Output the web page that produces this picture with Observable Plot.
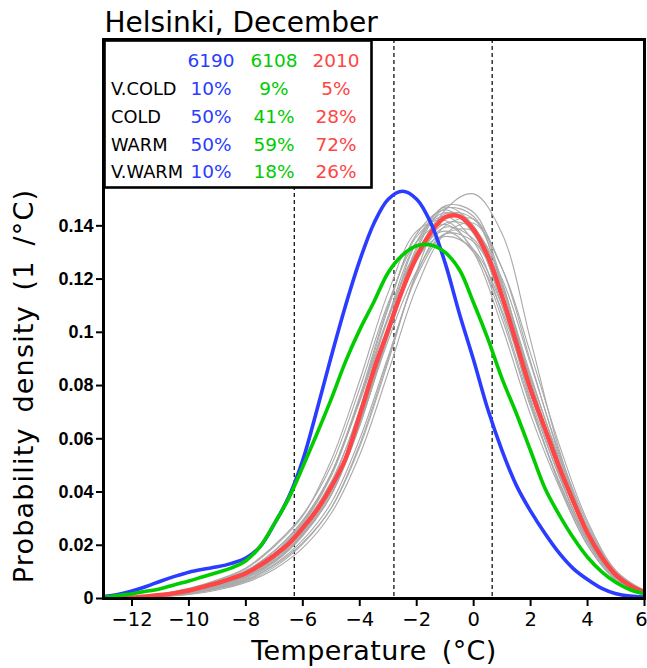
<!DOCTYPE html>
<html><head><meta charset="utf-8">
<script src="https://cdn.jsdelivr.net/npm/d3@7"></script>
<script src="https://cdn.jsdelivr.net/npm/@observablehq/plot@0.6"></script>
<style>
body{margin:0;background:#fff;}
#chart svg{display:block;}
</style>
</head><body><div id="chart"></div>
<script>
const title = "Helsinki, December";
const xLabel = "Temperature (°C)";
const yLabel = "Probability density (1 /°C)";
const xTicks = [-12, -10, -8, -6, -4, -2, 0, 2, 4, 6];
const yTicks = [0, 0.02, 0.04, 0.06, 0.08, 0.1, 0.12, 0.14];
const percentileLines = [-6.3, -2.8, 0.65];

const seriesNames = ["6190", "6108", "2010"];
const seriesColors = ["#2a3cff", "#00cc00", "#ff4545"];
const classNames = ["V.COLD", "COLD", "WARM", "V.WARM"];
const pct6190 = [10, 50, 50, 10];
const pct6108 = [9, 41, 59, 18];
const pct2010 = [5, 28, 72, 26];

const tHalf = [-13, -12.5, -12, -11.5, -11, -10.5, -10, -9.5, -9, -8.5, -8, -7.5, -7, -6.5, -6, -5.5, -5, -4.5, -4, -3.5, -3, -2.5, -2, -1.5, -1, -0.5, 0, 0.5, 1, 1.5, 2, 2.5, 3, 3.5, 4, 4.5, 5, 5.5, 6];
const dens6190 = [0.0007, 0.0015, 0.0028, 0.0045, 0.0065, 0.0083, 0.0099, 0.0110, 0.0119, 0.0132, 0.0152, 0.0195, 0.0280, 0.0380, 0.0520, 0.0710, 0.0910, 0.1100, 0.1270, 0.1410, 0.1500, 0.1530, 0.1500, 0.1410, 0.1260, 0.1070, 0.0895, 0.0710, 0.0555, 0.0425, 0.0328, 0.0245, 0.0171, 0.0112, 0.0071, 0.0038, 0.0018, 0.0009, 0.0005];
const dens6108 = [0.0005, 0.0011, 0.0018, 0.0027, 0.0037, 0.0052, 0.0066, 0.0082, 0.0098, 0.0115, 0.0142, 0.0195, 0.0281, 0.0375, 0.0495, 0.0620, 0.0750, 0.0890, 0.1010, 0.1115, 0.1225, 0.1290, 0.1325, 0.1328, 0.1300, 0.1235, 0.1110, 0.0975, 0.0825, 0.0695, 0.0555, 0.0415, 0.0315, 0.0228, 0.0155, 0.0100, 0.0060, 0.0033, 0.0018];
const dens2010 = [0.0000, 0.0002, 0.0004, 0.0008, 0.0013, 0.0020, 0.0030, 0.0044, 0.0058, 0.0075, 0.0095, 0.0125, 0.0162, 0.0205, 0.0265, 0.0333, 0.0420, 0.0525, 0.0690, 0.0860, 0.1010, 0.1160, 0.1285, 0.1375, 0.1432, 0.1436, 0.1385, 0.1285, 0.1135, 0.0960, 0.0785, 0.0640, 0.0495, 0.0365, 0.0245, 0.0155, 0.0088, 0.0048, 0.0024];

const tInt = [-13, -12, -11, -10, -9, -8, -7, -6, -5, -4, -3, -2, -1, 0, 1, 2, 3, 4, 5, 6];
const grayCurves = [
  [0, 0.0002, 0.0007, 0.0018, 0.0038, 0.0068, 0.0125, 0.021, 0.034, 0.057, 0.089, 0.123, 0.146, 0.152, 0.137, 0.097, 0.056, 0.026, 0.009, 0.0025],
  [0, 0.0003, 0.0009, 0.0022, 0.0045, 0.0078, 0.014, 0.024, 0.039, 0.065, 0.100, 0.132, 0.1475, 0.145, 0.119, 0.081, 0.049, 0.0235, 0.0082, 0.0021],
  [0, 0.0004, 0.0012, 0.0028, 0.0055, 0.0092, 0.0165, 0.028, 0.046, 0.075, 0.109, 0.137, 0.146, 0.137, 0.110, 0.075, 0.046, 0.0225, 0.008, 0.002],
  [0, 0.0005, 0.0015, 0.0035, 0.0065, 0.0105, 0.018, 0.0295, 0.047, 0.074, 0.105, 0.129, 0.136, 0.131, 0.110, 0.079, 0.050, 0.026, 0.0095, 0.0028],
  [0, 0.0002, 0.0006, 0.0015, 0.0032, 0.006, 0.011, 0.019, 0.032, 0.054, 0.085, 0.117, 0.137, 0.141, 0.124, 0.092, 0.058, 0.029, 0.0105, 0.003],
  [0, 0.0005, 0.0016, 0.0036, 0.0068, 0.0112, 0.0195, 0.031, 0.052, 0.082, 0.115, 0.138, 0.142, 0.130, 0.102, 0.069, 0.042, 0.020, 0.007, 0.0018],
  [0, 0.0004, 0.0013, 0.003, 0.0058, 0.0096, 0.0168, 0.0275, 0.044, 0.070, 0.101, 0.127, 0.1395, 0.135, 0.112, 0.080, 0.050, 0.025, 0.009, 0.0025],
  [0, 0.0003, 0.001, 0.0024, 0.0048, 0.0082, 0.0145, 0.0245, 0.040, 0.066, 0.099, 0.129, 0.1445, 0.1425, 0.118, 0.082, 0.050, 0.024, 0.0085, 0.0023],
  [0, 0.0004, 0.0014, 0.0032, 0.0062, 0.0102, 0.0178, 0.029, 0.047, 0.075, 0.106, 0.130, 0.138, 0.130, 0.108, 0.077, 0.048, 0.024, 0.0088, 0.0024],
  [0, 0.0002, 0.0008, 0.002, 0.0042, 0.0074, 0.0135, 0.0235, 0.039, 0.066, 0.102, 0.134, 0.147, 0.140, 0.112, 0.074, 0.043, 0.020, 0.0068, 0.0018],
  [0, 0.0003, 0.0011, 0.0026, 0.005, 0.0086, 0.0152, 0.0255, 0.041, 0.067, 0.099, 0.127, 0.141, 0.139, 0.117, 0.084, 0.052, 0.026, 0.0092, 0.0025],
  [0, 0.0004, 0.0013, 0.003, 0.0058, 0.0097, 0.017, 0.0285, 0.047, 0.076, 0.110, 0.136, 0.1435, 0.134, 0.107, 0.073, 0.044, 0.021, 0.0075, 0.002],
  [0, 0.0002, 0.0008, 0.0019, 0.004, 0.007, 0.0128, 0.022, 0.036, 0.060, 0.091, 0.121, 0.137, 0.138, 0.120, 0.088, 0.055, 0.028, 0.010, 0.0028],
  [0, 0.0003, 0.0009, 0.0023, 0.0046, 0.008, 0.0142, 0.024, 0.039, 0.065, 0.099, 0.131, 0.1465, 0.1435, 0.117, 0.080, 0.047, 0.022, 0.0078, 0.0021],
  [0, 0.0005, 0.0017, 0.0038, 0.007, 0.0115, 0.020, 0.0315, 0.050, 0.079, 0.111, 0.134, 0.1405, 0.131, 0.105, 0.072, 0.044, 0.0215, 0.0078, 0.0021],
  [0, 0.0002, 0.0007, 0.0017, 0.0036, 0.0064, 0.0118, 0.0205, 0.034, 0.058, 0.090, 0.122, 0.140, 0.1425, 0.124, 0.089, 0.054, 0.026, 0.0092, 0.0025],
  [0, 0.0003, 0.001, 0.0025, 0.0049, 0.0084, 0.015, 0.025, 0.041, 0.066, 0.097, 0.123, 0.137, 0.134, 0.114, 0.083, 0.053, 0.027, 0.0098, 0.0027],
  [0, 0.0003, 0.0011, 0.0026, 0.0052, 0.0088, 0.0156, 0.026, 0.043, 0.071, 0.106, 0.134, 0.145, 0.138, 0.112, 0.077, 0.046, 0.022, 0.0078, 0.0021]
];

const mainSeries = [dens6190, dens6108, dens2010];
const mainData = seriesNames.map((s, k) => mainSeries[k].map((d, i) => ({t: tHalf[i], d, s})));
const grayData = grayCurves.flatMap((arr, k) => arr.map((d, i) => ({t: tInt[i], d, id: k})));

const fmtX = d => d < 0 ? "\u2212" + (-d) : String(d);
const mainFont = "DejaVu Sans, sans-serif";

const lineOpts = (k, w) => ({x: "t", y: "d", stroke: seriesColors[k], strokeWidth: w, curve: "catmull-rom", clip: true});

const plot = Plot.plot({
  width: 647, height: 668,
  marginLeft: 103, marginRight: 3, marginTop: 39, marginBottom: 70,
  style: {fontFamily: mainFont, background: "white", overflow: "visible"},
  x: {domain: [-13, 6]},
  y: {domain: [0, 0.21]},
  marks: [
    Plot.ruleX(percentileLines, {stroke: "black", strokeWidth: 1.2, strokeDasharray: "4,3"}),
    Plot.line(grayData, {x: "t", y: "d", z: "id", stroke: "#a9a9a9", strokeWidth: 1.1, curve: "catmull-rom", clip: true}),
    Plot.line(mainData[2], lineOpts(2, 4.4)),
    Plot.line(mainData[0], lineOpts(0, 3.6)),
    Plot.line(mainData[1], lineOpts(1, 3.6)),
    Plot.axisX({ticks: xTicks, tickFormat: fmtX, tickSize: 8, tickPadding: 6, fontSize: 19.5, strokeWidth: 2, label: null}),
    Plot.axisY({ticks: yTicks, tickFormat: d => String(d), tickSize: 7, tickPadding: 3, fontSize: 18, fontWeight: "bold", fontFamily: "Liberation Sans, Arial, sans-serif", strokeWidth: 2, label: null}),
    Plot.frame({stroke: "black", strokeWidth: 3}),
    Plot.text([title], {frameAnchor: "top-left", dx: 1, dy: -8, textAnchor: "start", lineAnchor: "bottom", fontSize: 28}),
    Plot.text([xLabel], {frameAnchor: "bottom", dy: 61, textAnchor: "middle", lineAnchor: "bottom", fontSize: 27}),
    Plot.text([yLabel], {frameAnchor: "left", dx: -79, dy: 67, rotate: -90, textAnchor: "middle", lineAnchor: "middle", fontSize: 27})
  ]
});

document.getElementById("chart").appendChild(plot);

const svg = d3.select(plot);
// letter/word spacing of the axis titles
svg.selectAll("text").filter(function() { return this.textContent === yLabel; })
  .style("letter-spacing", "1.2px").style("word-spacing", "5px");
svg.selectAll("text").filter(function() { return this.textContent === xLabel; })
  .style("letter-spacing", "0.4px").style("word-spacing", "6px");
// keep the last x tick label inside the picture
svg.selectAll("text").filter(function() { return this.textContent === fmtX(xTicks[xTicks.length - 1]); })
  .attr("dx", -3);

// legend table
const g = svg.append("g").attr("font-family", mainFont).attr("font-size", 18.5).attr("text-anchor", "start");
g.append("rect").attr("x", 104.5).attr("y", 40.5).attr("width", 267).attr("height", 147)
  .attr("fill", "white").attr("stroke", "black").attr("stroke-width", 2.6);
const colX = [211, 274, 336];
const rowY = [67, 94.5, 122.5, 150.5, 178];
const pcts = [pct6190, pct6108, pct2010];
seriesNames.forEach((s, k) => {
  g.append("text").attr("x", colX[k]).attr("y", rowY[0]).attr("text-anchor", "middle").attr("fill", seriesColors[k]).text(s);
});
classNames.forEach((c, r) => {
  g.append("text").attr("x", 111).attr("y", rowY[r + 1]).attr("text-anchor", "start").attr("font-size", 17.8).attr("fill", "black").text(c);
  pcts.forEach((arr, k) => {
    g.append("text").attr("x", colX[k]).attr("y", rowY[r + 1]).attr("text-anchor", "middle").attr("fill", seriesColors[k]).text(arr[r] + "%");
  });
});
</script>
</body></html>
